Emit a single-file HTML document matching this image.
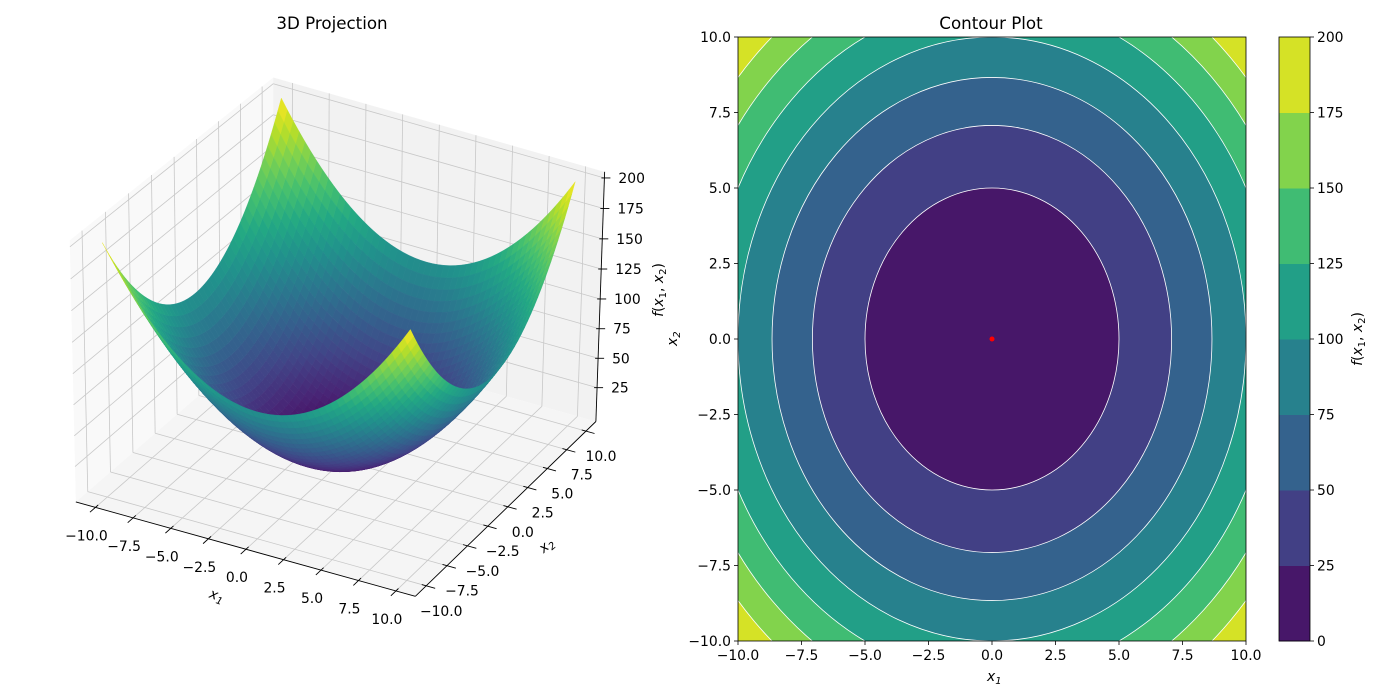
<!DOCTYPE html>
<html><head><meta charset="utf-8"><style>
html,body{margin:0;padding:0;background:#fff;width:1400px;height:700px;overflow:hidden;}
svg{display:block;font-family:"DejaVu Sans","Liberation Sans",sans-serif;}
</style></head><body>
<svg id="fig" width="1400" height="700" viewBox="0 0 1400 700">
<rect width="1400" height="700" fill="#fff"/>
<g id="g3d"></g>
<g id="gc"></g>
</svg>
<script>
// ---- data ----
const levels = [0,25,50,75,100,125,150,175,200];
const coeffs = [1,1]; // f = a*x1^2 + b*x2^2
const tickVals = [-10,-7.5,-5,-2.5,0,2.5,5,7.5,10];
const tickLabels = ["−10.0","−7.5","−5.0","−2.5","0.0","2.5","5.0","7.5","10.0"];
const zTicks = [25,50,75,100,125,150,175,200];
const zTickLabels = ["25","50","75","100","125","150","175","200"];
const gridN = 50;
const minPoint = [0,0];

const NS="http://www.w3.org/2000/svg";
function mk(tag,attrs,parent,name){const e=document.createElementNS(NS,tag);for(const k in attrs)e.setAttribute(k,attrs[k]);
  
  
  parent.appendChild(e);return e;}
const vir=["#440154","#482475","#414487","#355f8d","#2a788e","#21918c","#22a884","#44bf70","#7ad151","#bddf26","#fde725"];
function hx(c){return [parseInt(c.slice(1,3),16),parseInt(c.slice(3,5),16),parseInt(c.slice(5,7),16)];}
function viridis(t){t=Math.max(0,Math.min(1,t));const s=t*10,i=Math.min(9,Math.floor(s)),f=s-i;const a=hx(vir[i]),b=hx(vir[i+1]);
  return "rgb("+a.map((v,k)=>Math.round(v+(b[k]-v)*f)).join(",")+")";}
function f(x,y){return coeffs[0]*x*x+coeffs[1]*y*y;}
const vmin=levels[0], vmax=levels[levels.length-1];

const xlo=-11.3,xhi=11.3,ylo=-11.3,yhi=11.3,zlo=-4,zhi=205;
// ---- 3D projection fitted (DLT) ----
const corr=[[-10,10,200,282,104],[-10,-10,200,103,240],[10,10,200,573,179],[10,-10,200,408,327],
 [1.92,-3.33,14.8,337,465],[0,10,100,450,262],[0,-10,100,277,412],[10,0,100,480,383],[-10,0,100,175,300],
 [-10,ylo,zlo,95,500],[10,ylo,zlo,392,597],[xhi,-10,zlo,433,590],[xhi,10,zlo,582,428],
 [xhi,yhi,200,602,174],[xhi,yhi,25,599,388]];
let P=(function(){const A=[],b=[];
 for(const c of corr){const X=c[0]/10,Y=c[1]/10,Z=c[2]/100,u=c[3],v=c[4];
  A.push([X,Y,Z,1,0,0,0,0,-u*X,-u*Y,-u*Z]);b.push(u);
  A.push([0,0,0,0,X,Y,Z,1,-v*X,-v*Y,-v*Z]);b.push(v);}
 const n=11,M=[];for(let i=0;i<n;i++){M.push(new Array(n+1).fill(0));
  for(let j=0;j<n;j++)for(let r=0;r<A.length;r++)M[i][j]+=A[r][i]*A[r][j];
  for(let r=0;r<A.length;r++)M[i][n]+=A[r][i]*b[r];}
 for(let i=0;i<n;i++){let p=i;for(let r=i+1;r<n;r++)if(Math.abs(M[r][i])>Math.abs(M[p][i]))p=r;
  [M[i],M[p]]=[M[p],M[i]];for(let r=0;r<n;r++){if(r===i)continue;const fct=M[r][i]/M[i][i];for(let j=i;j<=n;j++)M[r][j]-=fct*M[i][j];}}
 return M.map((row,i)=>row[n]/row[i]);})();
function proj(x,y,z){const X=x/10,Y=y/10,Z=z/100;const w=P[8]*X+P[9]*Y+P[10]*Z+1;
 return [(P[0]*X+P[1]*Y+P[2]*Z+P[3])/w,(P[4]*X+P[5]*Y+P[6]*Z+P[7])/w];}
const g3=document.getElementById('g3d');
function poly(pts,attrs,parent,name){const a=Object.assign({points:pts.map(p=>p[0].toFixed(2)+","+p[1].toFixed(2)).join(" ")},attrs);return mk('polygon',a,parent,name);}
function line3(a,b,attrs,parent,name){const p=proj(...a),q=proj(...b);return mk('line',Object.assign({x1:p[0],y1:p[1],x2:q[0],y2:q[1]},attrs),parent,name);}
// panes
poly([[xlo,ylo,zlo],[xlo,yhi,zlo],[xlo,yhi,zhi],[xlo,ylo,zhi]].map(p=>proj(...p)),{fill:"#f9f9f9"},g3,'pane-left');
poly([[xlo,yhi,zlo],[xhi,yhi,zlo],[xhi,yhi,zhi],[xlo,yhi,zhi]].map(p=>proj(...p)),{fill:"#f2f2f2"},g3,'pane-back');
poly([[xlo,ylo,zlo],[xhi,ylo,zlo],[xhi,yhi,zlo],[xlo,yhi,zlo]].map(p=>proj(...p)),{fill:"#f5f5f5"},g3,'pane-floor');
const ga={stroke:"#c8c8c8","stroke-width":0.8};
for(const t of tickVals){line3([t,ylo,zlo],[t,yhi,zlo],ga,g3,'grid-x-floor');line3([t,yhi,zlo],[t,yhi,zhi],ga,g3,'grid-x-back');
 line3([xlo,t,zlo],[xhi,t,zlo],ga,g3,'grid-y-floor');line3([xlo,t,zlo],[xlo,t,zhi],ga,g3,'grid-y-left');}
for(const z of zTicks){line3([xlo,ylo,z],[xlo,yhi,z],ga,g3,'grid-z-left');line3([xlo,yhi,z],[xhi,yhi,z],ga,g3,'grid-z-back');}
// axes
const ax={stroke:"#000","stroke-width":0.9};
line3([xlo,ylo,zlo],[xhi,ylo,zlo],ax,g3,'x1-axis-line');
line3([xhi,ylo,zlo],[xhi,yhi,zlo],ax,g3,'x2-axis-line');
line3([xhi,yhi,zlo],[xhi,yhi,zhi],ax,g3,'z-axis-line');
function txt(x,y,s,attrs,parent,name){const e=mk('text',Object.assign({x:x,y:y,"font-size":13.9,fill:"#000"},attrs),parent,name);e.textContent=s;return e;}
tickVals.forEach((t,i)=>{
 line3([t,ylo+0.3,zlo],[t,ylo-0.6,zlo],ax,g3,'x1-tick');
 const p=proj(t,ylo,zlo);txt(p[0]-9,p[1]+33,tickLabels[i],{"text-anchor":"middle"},g3,'x1-tick-label');
 line3([xhi-0.3,t,zlo],[xhi+0.6,t,zlo],ax,g3,'x2-tick');
 const q=proj(xhi,t,zlo);txt(q[0]+15,q[1]+30,tickLabels[i],{"text-anchor":"middle"},g3,'x2-tick-label');
});
zTicks.forEach((z,i)=>{const p=proj(xhi,yhi,z);
 mk('line',{x1:p[0]-3,y1:p[1],x2:p[0]+6,y2:p[1],stroke:"#000","stroke-width":0.9},g3,'z-tick');
 txt(p[0]+14,p[1]+5,zTickLabels[i],{},g3,'z-tick-label');});
// surface
const quads=[];const st=20/gridN;
for(let i=0;i<gridN;i++)for(let j=0;j<gridN;j++){
 const x0=-10+i*st,x1=x0+st,y0=-10+j*st,y1=y0+st;
 const zs=[f(x0,y0),f(x1,y0),f(x1,y1),f(x0,y1)];const za=(zs[0]+zs[1]+zs[2]+zs[3])/4;
 const xc=(x0+x1)/2,yc=(y0+y1)/2;
 const d=0.866*(0.5*xc*0.2-0.866*yc*0.2)+0.5*za*0.015;
 quads.push({pts:[[x0,y0,zs[0]],[x1,y0,zs[1]],[x1,y1,zs[2]],[x0,y1,zs[3]]],za,d});}
quads.sort((a,b)=>a.d-b.d);
const gs=mk('g',{},g3,'surface');
for(const q of quads){const c=viridis((q.za-vmin)/(vmax-vmin));
 poly(q.pts.map(p=>proj(...p)),{fill:c,stroke:c,"stroke-width":0.4},gs,'surface-facet');}
txt(332,29,"3D Projection",{"text-anchor":"middle","font-size":16.7},g3,'chart-title-3d');
g3.insertAdjacentHTML('beforeend',
 '<text x="217" y="600" font-size="13.9" text-anchor="middle" transform="rotate(20 217 595)" font-style="italic">x<tspan font-size="10" dy="3">1</tspan></text>'+
 '<text x="546" y="550" font-size="13.9" text-anchor="middle" transform="rotate(-40 546 545)" font-style="italic">x<tspan font-size="10" dy="3">2</tspan></text>'+
 '<text font-size="13.9" text-anchor="middle" transform="translate(663 290) rotate(-90)"><tspan font-style="italic">f</tspan>(<tspan font-style="italic">x</tspan><tspan font-size="10" dy="3">1</tspan><tspan dy="-3">, </tspan><tspan font-style="italic">x</tspan><tspan font-size="10" dy="3">2</tspan><tspan dy="-3">)</tspan></text>');
</script>
<script>
// ---- contour panel ----
(function(){
const gc=document.getElementById('gc');
const L=738,R=1246,T=37,B=641;
const sx=v=>L+(v+10)/20*(R-L), sy=v=>B-(v+10)/20*(B-T);
function el(tag,a,name){const e=document.createElementNS(NS,tag);for(const k in a)e.setAttribute(k,a[k]);
 
 
 gc.appendChild(e);return e;}
const defs=el('defs',{},'defs');const cp=document.createElementNS(NS,'clipPath');cp.setAttribute('id','cclip');defs.appendChild(cp);
const cr=document.createElementNS(NS,'rect');cr.setAttribute('x',L);cr.setAttribute('y',T);cr.setAttribute('width',R-L);cr.setAttribute('height',B-T);cp.appendChild(cr);
const g=el('g',{"clip-path":"url(#cclip)"},'contour-fill');
function bandColor(k){return viridis(((levels[k]+levels[k+1])/2-vmin)/(vmax-vmin));}
const nb=levels.length-1;
let r0=document.createElementNS(NS,'rect');


r0.setAttribute('x',L);r0.setAttribute('y',T);r0.setAttribute('width',R-L);r0.setAttribute('height',B-T);r0.setAttribute('fill',bandColor(nb-1));g.appendChild(r0);
for(let k=nb-1;k>=1;k--){const lv=levels[k];const e=document.createElementNS(NS,'ellipse');
 
 
 e.setAttribute('cx',sx(minPoint[0]));e.setAttribute('cy',sy(minPoint[1]));
 e.setAttribute('rx',sx(Math.sqrt(lv/coeffs[0]))-sx(0));e.setAttribute('ry',sy(0)-sy(Math.sqrt(lv/coeffs[1])));
 e.setAttribute('fill',bandColor(k-1));g.appendChild(e);}
for(let k=1;k<nb;k++){const lv=levels[k];const e=document.createElementNS(NS,'ellipse');
 
 
 e.setAttribute('cx',sx(minPoint[0]));e.setAttribute('cy',sy(minPoint[1]));
 e.setAttribute('rx',sx(Math.sqrt(lv/coeffs[0]))-sx(0));e.setAttribute('ry',sy(0)-sy(Math.sqrt(lv/coeffs[1])));
 e.setAttribute('fill','none');e.setAttribute('stroke','#fff');e.setAttribute('stroke-width',0.8);g.appendChild(e);}
el('circle',{cx:sx(minPoint[0]),cy:sy(minPoint[1]),r:2.5,fill:"#ff0000"},'minimum-point');
el('rect',{x:L,y:T,width:R-L,height:B-T,fill:"none",stroke:"#000","stroke-width":0.8},'contour-axes-frame');
function t(x,y,s,a,name){const e=el('text',Object.assign({x:x,y:y,"font-size":13.9,fill:"#000"},a),name);e.textContent=s;return e;}
tickVals.forEach((v,i)=>{
 el('line',{x1:sx(v),y1:B,x2:sx(v),y2:B+4,stroke:"#000","stroke-width":0.8},'x1-tick');
 t(sx(v),B+19,tickLabels[i],{"text-anchor":"middle"},'x1-tick-label');
 el('line',{x1:L-4,y1:sy(v),x2:L,y2:sy(v),stroke:"#000","stroke-width":0.8},'x2-tick');
 t(L-7,sy(v)+5,tickLabels[i],{"text-anchor":"end"},'x2-tick-label');});
t(991,29,"Contour Plot",{"text-anchor":"middle","font-size":16.7},'chart-title-contour');
gc.insertAdjacentHTML('beforeend','<text x="987" y="681" font-size="13.9" font-style="italic">x<tspan font-size="10" dy="3">1</tspan></text>'+
 '<text x="0" y="0" font-size="13.9" font-style="italic" transform="translate(677 346) rotate(-90)">x<tspan font-size="10" dy="3">2</tspan></text>');
// colorbar
const CL=1279,CR=1310;const cy=v=>B-(v-vmin)/(vmax-vmin)*(B-T);
for(let k=0;k<nb;k++)el('rect',{x:CL,y:cy(levels[k+1]),width:CR-CL,height:cy(levels[k])-cy(levels[k+1])+0.5,fill:bandColor(k)},'colorbar-band');
el('rect',{x:CL,y:T,width:CR-CL,height:B-T,fill:"none",stroke:"#000","stroke-width":0.8},'colorbar-frame');
levels.forEach(v=>{el('line',{x1:CR,y1:cy(v),x2:CR+4,y2:cy(v),stroke:"#000","stroke-width":0.8},'colorbar-tick');
 t(CR+7,cy(v)+5,String(v),{},'colorbar-tick-label');});
gc.insertAdjacentHTML('beforeend','<text font-size="13.9" text-anchor="middle" transform="translate(1362 339) rotate(-90)"><tspan font-style="italic">f</tspan>(<tspan font-style="italic">x</tspan><tspan font-size="10" dy="3">1</tspan><tspan dy="-3">, </tspan><tspan font-style="italic">x</tspan><tspan font-size="10" dy="3">2</tspan><tspan dy="-3">)</tspan></text>');
})();
</script>
</body></html>
